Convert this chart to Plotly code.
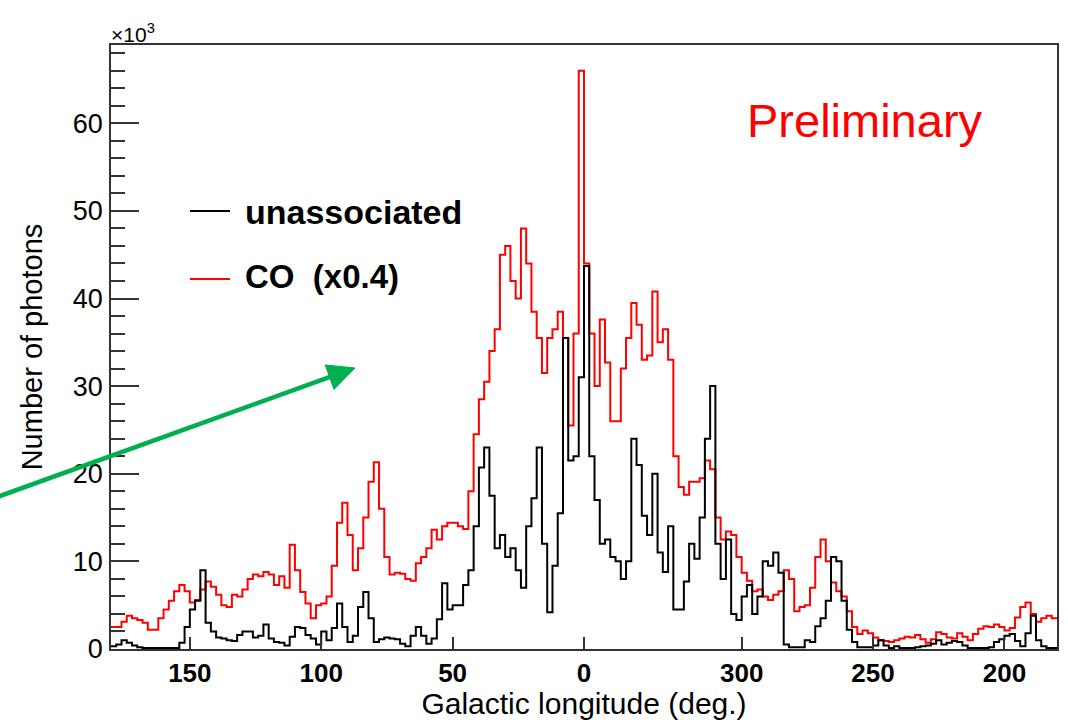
import numpy as np
import plotly.graph_objects as go

# ---------------- data (values in units of 10^3 photons) ----------------
# 2-degree bins, ordered left to right: l = 180 ... 0 ... 360(=0) ... 180
bin_width_deg = 2.0
co_x04 = [
    2.5, 2.5, 3.1, 3.8, 3.5, 3.3, 3.0, 2.2, 2.2, 3.5,
    4.5, 5.5, 6.6, 7.3, 6.6, 5.3, 5.6, 6.8, 7.7, 7.1,
    6.2, 5.0, 4.8, 6.2, 6.0, 6.8, 8.0, 8.5, 8.3, 8.8,
    8.5, 7.3, 8.3, 7.0, 11.9, 9.0, 6.5, 5.2, 3.5, 5.0,
    5.2, 6.0, 9.5, 14.4, 16.7, 13.0, 9.0, 11.5, 15.0, 19.1,
    21.3, 16.0, 10.5, 8.5, 8.7, 8.6, 8.0, 7.8, 9.8, 10.5,
    11.5, 13.6, 12.5, 14.0, 14.4, 14.4, 14.0, 13.7, 18.0, 24.5,
    28.5, 30.5, 34.0, 36.5, 45.0, 46.0, 42.0, 40.0, 48.0, 44.0,
    38.5, 35.5, 31.5, 35.5, 36.5, 38.5, 35.5, 25.5, 36.0, 66.0,
    44.0, 36.0, 30.0, 37.6, 32.7, 26.0, 26.0, 32.0, 35.5, 39.5,
    37.0, 33.0, 33.5, 40.8, 35.0, 36.5, 33.0, 22.0, 18.5, 17.6,
    19.1, 19.1, 19.5, 21.5, 20.5, 15.0, 12.5, 13.4, 13.0, 10.5,
    8.7, 7.8, 6.6, 6.8, 6.0, 5.6, 6.2, 6.6, 9.0, 8.0,
    4.3, 4.8, 5.0, 7.0, 10.5, 12.5, 10.0, 7.6, 6.6, 6.0,
    4.3, 2.5, 1.7, 2.1, 1.8, 1.3, 1.0, 0.9, 0.8, 1.0,
    1.2, 1.4, 1.3, 1.6, 1.1, 0.7, 1.1, 1.9, 1.7, 1.3,
    1.2, 1.8, 1.4, 1.0, 1.7, 2.3, 2.6, 2.5, 2.8, 2.5,
    2.1, 2.4, 3.6, 4.8, 5.3, 4.0, 3.1, 3.5, 3.8, 3.5,
]
unassociated = [
    0.3, 0.5, 1.0, 0.7, 0.4, 0.2, 0.1, 0.1, 0.1, 0.1,
    0.1, 0.1, 0.1, 0.7, 2.5, 4.5, 5.5, 9.0, 3.0, 2.0,
    1.3, 1.2, 1.0, 0.9, 1.6, 2.0, 2.0, 1.3, 1.5, 2.8,
    1.2, 0.8, 0.7, 0.4, 1.4, 2.5, 2.4, 1.6, 1.2, 0.5,
    2.0, 1.0, 2.4, 5.2, 2.5, 0.8, 1.5, 4.8, 6.5, 3.5,
    0.8, 1.1, 1.3, 1.2, 1.1, 0.6, 0.3, 1.5, 2.5, 1.5,
    0.6, 1.2, 3.4, 7.5, 4.5, 5.0, 5.0, 7.3, 9.0, 14.0,
    20.7, 23.0, 17.5, 11.5, 13.0, 10.5, 11.5, 9.0, 7.0, 14.0,
    17.2, 23.0, 12.0, 4.2, 9.5, 15.5, 35.5, 21.5, 22.0, 31.0,
    43.7, 22.0, 17.0, 12.0, 12.5, 10.5, 10.0, 8.0, 10.0, 24.0,
    21.0, 15.2, 13.0, 20.0, 11.0, 8.8, 14.0, 4.5, 4.5, 7.7,
    12.0, 10.3, 15.0, 24.0, 30.0, 12.0, 8.0, 12.5, 4.0, 3.3,
    6.0, 7.3, 4.0, 6.0, 10.0, 9.5, 11.0, 8.7, 0.5, 0.2,
    0.2, 0.2, 1.0, 0.8, 2.6, 3.5, 5.5, 10.5, 10.0, 5.5,
    2.2, 0.8, 0.2, 0.2, 0.2, 0.4, 1.0, 0.4, 0.1, 0.3,
    0.1, 0.1, 0.1, 0.2, 0.3, 0.4, 0.6, 1.0, 0.5, 0.7,
    0.9, 0.8, 0.4, 0.1, 0.1, 0.1, 0.1, 0.2, 0.8, 1.1,
    1.5, 1.7, 0.9, 0.3, 1.8, 3.8, 1.0, 0.3, 0.1, 0.1,
]
# tick positions in the wrapped coordinate (l for l<=180, l-360 otherwise)
tick_positions = [150, 100, 50, 0, -60, -110, -160]
tick_labels = ["150", "100", "50", "0", "300", "250", "200"]
y_ticks = [0, 10, 20, 30, 40, 50, 60]

# ---------------- build ----------------
n_bins = len(co_x04)
edges = 180.0 - bin_width_deg * np.arange(n_bins + 1)


def step_y(vals):
    v = list(vals)
    return v + [v[-1]]


FONT = "Liberation Sans, Arial, Helvetica, sans-serif"

# plot-area pixel box (for placing decorations)
PL, PR, PT, PB = 111, 1057, 45, 649


def fx(x):
    return (x - PL) / (PR - PL)


def fy(y):
    return (PB - y) / (PB - PT)


fig = go.Figure()
fig.add_trace(go.Scatter(x=edges, y=step_y(co_x04), mode="lines",
                         line=dict(color="#ff0000", width=2, shape="hv"),
                         name="CO (x0.4)", showlegend=False, hoverinfo="skip"))
fig.add_trace(go.Scatter(x=edges, y=step_y(unassociated), mode="lines",
                         line=dict(color="#000000", width=2, shape="hv"),
                         name="unassociated", showlegend=False, hoverinfo="skip"))

fig.update_layout(
    width=1068, height=720,
    margin=dict(l=PL, r=1068 - PR, t=PT, b=720 - PB, autoexpand=False),
    paper_bgcolor="white", plot_bgcolor="white",
    font=dict(family=FONT, color="black"),
    xaxis=dict(
        range=[180, -180], tickmode="array", tickvals=tick_positions, ticktext=tick_labels,
        ticks="inside", ticklen=12, tickwidth=1.5, tickcolor="#333",
        showline=True, linecolor="#333", linewidth=1.5, mirror=True,
        showgrid=False, zeroline=False, automargin=False,
        tickfont=dict(family=FONT, size=26, color="black", weight="bold"),
        ticklabelstandoff=0,
        title=dict(text="Galactic longitude (deg.)", font=dict(family=FONT, size=30, color="black"), standoff=5),
    ),
    yaxis=dict(
        range=[0, 68.93], tickmode="array", tickvals=y_ticks,
        ticks="inside", ticklen=28, tickwidth=1.5, tickcolor="#333",
        minor=dict(dtick=2, ticks="inside", ticklen=14, tickwidth=1.5, tickcolor="#333", showgrid=False),
        showline=True, linecolor="#333", linewidth=1.5, mirror=True,
        showgrid=False, zeroline=False, automargin=False,
        tickfont=dict(family=FONT, size=27, color="black"),
        ticklabelstandoff=1,
        title=dict(text="Number of photons", font=dict(family=FONT, size=29, color="black"), standoff=22),
    ),
)

# legend drawn by hand (as in the original ROOT canvas)
fig.add_shape(type="line", xref="paper", yref="paper", x0=fx(190), x1=fx(230), y0=fy(211), y1=fy(211),
              line=dict(color="black", width=2))
fig.add_shape(type="line", xref="paper", yref="paper", x0=fx(190), x1=fx(230), y0=fy(279), y1=fy(279),
              line=dict(color="#ff0000", width=2))
fig.add_annotation(xref="paper", yref="paper", x=fx(243), y=fy(212), xanchor="left", yanchor="middle",
                   text="<b>unassociated</b>", showarrow=False, font=dict(family=FONT, size=34, color="black"))
fig.add_annotation(xref="paper", yref="paper", x=fx(243), y=fy(276), xanchor="left", yanchor="middle",
                   text="<b>CO\u00a0\u00a0(x0.4)</b>", showarrow=False, font=dict(family=FONT, size=33, color="black"))
fig.add_annotation(xref="paper", yref="paper", x=fx(745), y=fy(121), xanchor="left", yanchor="middle",
                   text="Preliminary", showarrow=False, font=dict(family=FONT, size=47, color="#ff0000"))
fig.add_annotation(xref="paper", yref="paper", x=fx(109), y=fy(33), xanchor="left", yanchor="middle",
                   text="\u00d710<sup>3</sup>", showarrow=False, font=dict(family=FONT, size=21, color="black"))

# green arrow (slide decoration): shaft + filled triangular head
tip = np.array([355.0, 368.0])
tail = np.array([-5.0, 497.8])
u = (tip - tail) / np.linalg.norm(tip - tail)
nrm = np.array([-u[1], u[0]])
head_len, head_half = 27.0, 13.0
base = tip - head_len * u
c1 = base + head_half * nrm
c2 = base - head_half * nrm
fig.add_shape(type="line", xref="paper", yref="paper",
              x0=fx(tail[0]), y0=fy(tail[1]), x1=fx(base[0] + 2 * u[0]), y1=fy(base[1] + 2 * u[1]),
              line=dict(color="#00b050", width=4.5))
path = "M {:.5f},{:.5f} L {:.5f},{:.5f} L {:.5f},{:.5f} Z".format(
    fx(tip[0]), fy(tip[1]), fx(c1[0]), fy(c1[1]), fx(c2[0]), fy(c2[1]))
fig.add_shape(type="path", xref="paper", yref="paper", path=path,
              fillcolor="#00b050", line=dict(color="#00b050", width=1))

fig.write_html("out.html")
